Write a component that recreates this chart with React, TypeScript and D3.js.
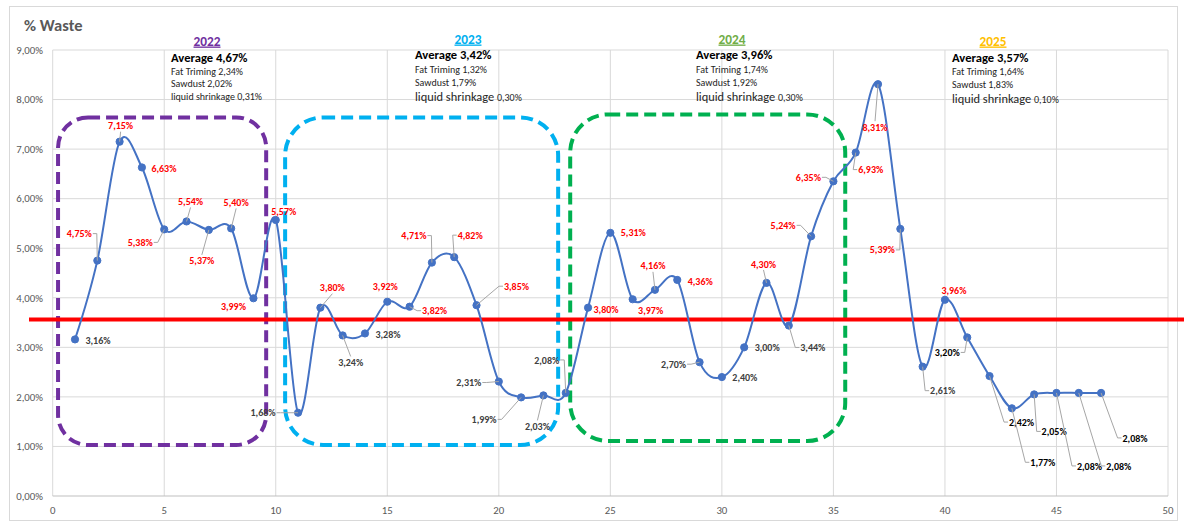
import React from 'react';
import * as d3 from 'd3';

// ---------- data ----------
const values: number[] = [
  3.16, 4.75, 7.15, 6.63, 5.38, 5.54, 5.37, 5.40, 3.99, 5.57,
  1.68, 3.80, 3.24, 3.28, 3.92, 3.82, 4.71, 4.82, 3.85, 2.31,
  1.99, 2.03, 2.08, 3.80, 5.31, 3.97, 4.16, 4.36, 2.70, 2.40,
  3.00, 4.30, 3.44, 5.24, 6.35, 6.93, 8.31, 5.39, 2.61, 3.96,
  3.20, 2.42, 1.77, 2.05, 2.08, 2.08, 2.08,
];
const weeks: number[] = values.map((_, i) => i + 1);
const redLineValue = 3.56;

const years = ['2022', '2023', '2024', '2025'];
const averages = ['4,67%', '3,42%', '3,96%', '3,57%'];
const fatTrim = ['2,34%', '1,32%', '1,74%', '1,64%'];
const sawdust = ['2,02%', '1,79%', '1,92%', '1,83%'];
const liquid = ['0,31%', '0,30%', '0,30%', '0,10%'];

const xTicks = [0, 5, 10, 15, 20, 25, 30, 35, 40, 45, 50];
const yTicks = [0, 1, 2, 3, 4, 5, 6, 7, 8, 9];

// ---------- layout (not data) ----------
const W = 1184;
const H = 522;
const plot = { left: 52.7, right: 1168, top: 50, bottom: 496 };
const yearColors = ['#7030A0', '#00B0F0', '#70AD47', '#FFC000'];
const yearLabelPos = [[207, 45.5], [468, 43.5], [732, 43.5], [993, 45.5]];
const blockX = [171, 415, 696, 952];
const blockBaselines = [[61.5, 74.5, 87, 99.5], [58.5, 72.5, 85.5, 100.5], [58.5, 72.5, 85.5, 100.5], [61.5, 74.5, 87.5, 102.5]];
const bigLiquid = [false, true, true, true];
// boxes in data coordinates: [x0, x1, y0, y1]
const boxes = [[0.24, 9.57, 1.03, 7.64], [10.42, 22.66, 1.03, 7.64], [23.2, 35.53, 1.11, 7.7]];
const boxColors = ['#7030A0', '#00B0F0', '#00B050'];
const boxRadius = [30, 38, 38];
// label offsets in pixels relative to point: [dx, dy, leader]
const labelOffsets: number[][] = [
  [23, 1, 0], [-18, -27, 1], [1, -16, 1], [22, 1, 0], [-24, 13, 1],
  [4, -20, 1], [-7, 31, 1], [5, -26, 1], [-20, 8, 0], [8, -9, 0],
  [-35, 0, 1], [12, -20, 1], [8, 27, 1], [23, 1, 0], [-2, -15, 0],
  [25, 4, 1], [-18, -27, 1], [16, -22, 1], [40, -19, 1], [-30, 1, 1],
  [-37, 22, 1], [-6, 31, 1], [-19, -33, 1], [18, 2, 0], [23, 0, 0],
  [18, 11, 0], [-2, -24, 1], [23, 1, 0], [-26, 2, 1], [23, 0, 0],
  [23, 0, 0], [-3, -19, 1], [24, 22, 1], [-28, -11, 1], [-25, -4, 1],
  [15, 17, 1], [-3, 43, 1], [-18, 21, 1], [20, 24, 1], [9, -9, 0],
  [-20, 15, 1], [32, 46, 1], [31, 54, 1], [20, 37, 1], [33, 73, 1],
  [40, 73, 1], [34, 45, 1],
];

const FONT = "Calibri, Carlito, 'Liberation Sans', Arial, sans-serif";
const fmt = (v: number) => v.toFixed(2).replace('.', ',') + '%';

export default function App() {
  const x = d3.scaleLinear().domain([0, 50]).range([plot.left, plot.right]);
  const y = d3.scaleLinear().domain([0, 9]).range([plot.bottom, plot.top]);

  const line = d3
    .line<number>()
    .x((_, i) => x(weeks[i]))
    .y((d) => y(d))
    .curve(d3.curveCardinal.tension(0));

  const labelW = 25;
  const labelH = 10;

  return (
    <svg
      width={W}
      height={H}
      style={{ position: 'absolute', left: 0, top: 0, background: '#fff' }}
      fontFamily={FONT}
    >
      <rect x={9.5} y={6.5} width={1168} height={514} fill="#fff" stroke="#D9D9D9" />
      {/* grid */}
      {yTicks.slice(1).map((t) => (
        <line key={'gy' + t} x1={plot.left} x2={plot.right} y1={y(t)} y2={y(t)} stroke="#D9D9D9" strokeWidth={1} />
      ))}
      {xTicks.map((t) => (
        <line key={'gx' + t} x1={x(t)} x2={x(t)} y1={plot.top} y2={plot.bottom} stroke="#D9D9D9" strokeWidth={1} />
      ))}
      <line x1={plot.left} x2={plot.right} y1={y(0)} y2={y(0)} stroke="#BFBFBF" strokeWidth={1} />
      {/* axis labels */}
      {yTicks.map((t) => (
        <text key={'yl' + t} x={43} y={y(t) + 3.8} fontSize={10.8} fill="#595959" textAnchor="end">
          {t.toFixed(2).replace('.', ',') + '%'}
        </text>
      ))}
      {xTicks.map((t) => (
        <text key={'xl' + t} x={x(t)} y={513.5} fontSize={10.8} fill="#595959" textAnchor="middle">
          {t}
        </text>
      ))}
      {/* title */}
      <text x={24} y={30.5} fontSize={16.5} fontWeight="bold" fill="#595959">% Waste</text>

      {/* year boxes */}
      {boxes.map((b, i) => (
        <rect
          key={'box' + i}
          x={x(b[0])}
          y={y(b[3])}
          width={x(b[1]) - x(b[0])}
          height={y(b[2]) - y(b[3])}
          rx={boxRadius[i]}
          ry={boxRadius[i]}
          fill="none"
          stroke={boxColors[i]}
          strokeWidth={4}
          strokeDasharray="12 6"
        />
      ))}

      {/* red reference line */}
      <line x1={29} x2={W} y1={y(redLineValue)} y2={y(redLineValue)} stroke="#FF0000" strokeWidth={4} />

      {/* series */}
      <path d={line(values) || ''} fill="none" stroke="#4472C4" strokeWidth={2} />
      {values.map((v, i) => (
        <circle key={'pt' + i} cx={x(weeks[i])} cy={y(v)} r={3.6} fill="#4472C4" stroke="#4472C4" />
      ))}

      {/* leaders and labels */}
      {values.map((v, i) => {
        const px = x(weeks[i]);
        const py = y(v);
        const [dx, dy, leader] = labelOffsets[i];
        const cx = px + dx;
        const cy = py + dy;
        const color = v > redLineValue ? '#FF0000' : weeks[i] >= 41 ? '#000000' : '#404040';
        let leaderPath = '';
        if (leader) {
          if (Math.abs(dx) > labelW / 2 + 2) {
            const s = dx > 0 ? -1 : 1;
            const edge = cx + s * (labelW / 2 + 1);
            leaderPath = `M${px},${py}L${edge + s * 4},${cy}L${edge},${cy}`;
          } else {
            const edgeY = dy > 0 ? cy - labelH / 2 - 1 : cy + labelH / 2 + 1;
            leaderPath = `M${px},${py}L${cx},${edgeY}`;
          }
        }
        return (
          <g key={'lb' + i}>
            {leaderPath && <path d={leaderPath} fill="none" stroke="#A6A6A6" strokeWidth={1} />}
            <text x={cx} y={cy + 3.6} fontSize={10} fontWeight="bold" fill={color} textAnchor="middle">
              {fmt(v)}
            </text>
          </g>
        );
      })}

      {/* year annotations */}
      {years.map((yr, i) => (
        <g key={'yr' + i}>
          <text
            x={yearLabelPos[i][0]}
            y={yearLabelPos[i][1]}
            fontSize={13.3}
            fontWeight="bold"
            fill={yearColors[i]}
            textAnchor="middle"
            textDecoration="underline"
          >
            {yr}
          </text>
          <text x={blockX[i]} y={blockBaselines[i][0]} fontSize={12.6} fontWeight="bold" fill="#000">
            {'Average ' + averages[i]}
          </text>
          <text x={blockX[i]} y={blockBaselines[i][1]} fontSize={10} fill="#262626">
            {'Fat Triming ' + fatTrim[i]}
          </text>
          <text x={blockX[i]} y={blockBaselines[i][2]} fontSize={10} fill="#262626">
            {'Sawdust ' + sawdust[i]}
          </text>
          <text x={blockX[i]} y={blockBaselines[i][3]} fill="#262626">
            <tspan fontSize={bigLiquid[i] ? 12.4 : 10}>{'liquid shrinkage '}</tspan>
            <tspan fontSize={10}>{liquid[i]}</tspan>
          </text>
        </g>
      ))}
    </svg>
  );
}
